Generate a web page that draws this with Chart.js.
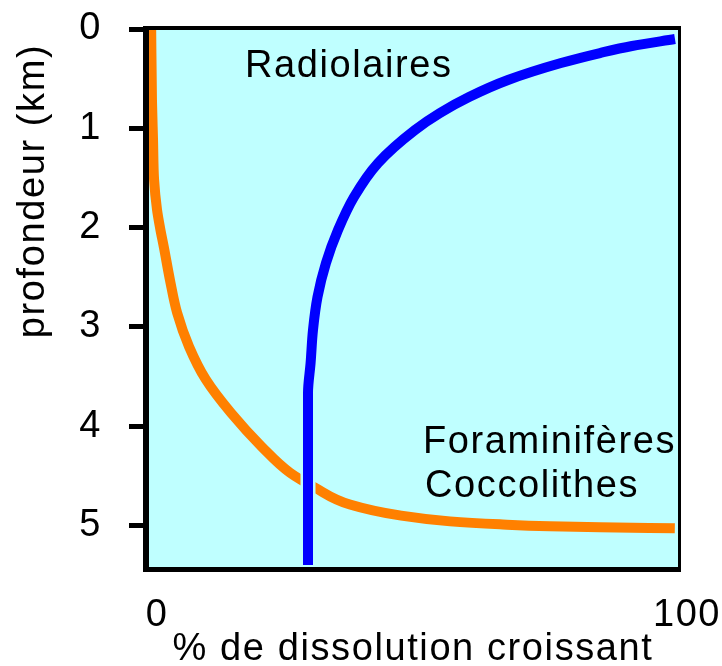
<!DOCTYPE html>
<html><head><meta charset="utf-8">
<style>html,body{margin:0;padding:0;background:#fff;}canvas{display:block;}</style>
<script src="https://cdn.jsdelivr.net/npm/chart.js@4"></script>
</head><body>
<canvas id="c" width="722" height="666"></canvas>
<script>
// ---- data ----
const yTicks = [0, 1, 2, 3, 4, 5];
const xTicks = [0, 100];
const xTitle = '% de dissolution croissant';
const yTitle = 'profondeur (km)';
const labelRadio = 'Radiolaires';
const labelForam = ['Foraminifères', 'Coccolithes'];

// Foraminifères / Coccolithes (orange)
const foramX = [0.6, 0.75, 0.95, 1.15, 1.7, 2.3, 3.0, 4.15, 5.5, 7.75, 10.9, 15.7, 21.5, 26.8, 31.5, 38.1, 47.5, 57.0, 66.4, 75.8, 85.3, 99.4];
const foramY = [0.0, 0.72, 1.12, 1.52, 1.82, 2.01, 2.20, 2.53, 2.86, 3.20, 3.53, 3.87, 4.21, 4.47, 4.62, 4.79, 4.90, 4.96, 4.99, 5.01, 5.02, 5.03];

// Radiolaires (blue)
const radioX = [30.19, 30.19, 30.68, 31.13, 31.98, 33.58, 35.85, 38.87, 43.40, 50.38, 55.09, 60.57, 67.92, 77.92, 85.28, 91.32, 99.43];
const radioY = [5.40, 3.667, 3.364, 3.032, 2.700, 2.357, 2.025, 1.692, 1.350, 1.017, 0.846, 0.685, 0.514, 0.343, 0.242, 0.171, 0.101];

const yMax = 5.45;

// ---- chart ----
const FONT = '"Liberation Sans", Arial, sans-serif';
const SPACING = '1.6px';
const pts = (xs, ys) => xs.map((x, i) => ({ x: x, y: ys[i] }));

const deco = {
  id: 'deco',
  beforeDraw(chart) {
    const { ctx, chartArea: a } = chart;
    ctx.save();
    ctx.fillStyle = '#ffffff';
    ctx.fillRect(0, 0, chart.width, chart.height);
    ctx.fillStyle = '#BFFFFF';
    ctx.fillRect(a.left, a.top, a.right - a.left, a.bottom - a.top);
    ctx.restore();
    ctx.letterSpacing = SPACING;
  },
  afterDatasetsDraw(chart) {
    const { ctx, chartArea: a } = chart;
    ctx.save();
    ctx.fillStyle = '#000';
    ctx.fillRect(a.left - 5, a.top - 3, 6, a.bottom - a.top + 5);   // left
    ctx.fillRect(a.left - 5, a.bottom - 3, a.right - a.left + 8, 5); // bottom
    ctx.fillRect(a.left - 5, a.top - 3, a.right - a.left + 8, 4);    // top
    ctx.fillRect(a.right, a.top - 3, 3, a.bottom - a.top + 5);       // right
    ctx.restore();
  },
  afterDraw(chart) {
    const { ctx } = chart;
    ctx.save();
    ctx.letterSpacing = SPACING;
    ctx.fillStyle = '#000';
    ctx.font = '38px ' + FONT;
    ctx.textBaseline = 'alphabetic';
    ctx.textAlign = 'left';
    ctx.fillText(labelRadio, 245, 77);
    ctx.fillText(labelForam[0], 423, 453);
    ctx.fillText(labelForam[1], 425, 497);
    ctx.translate(44, 191);
    ctx.rotate(-Math.PI / 2);
    ctx.textAlign = 'center';
    ctx.fillText(yTitle, 0, 0);
    ctx.restore();
  }
};

const lineStyle = { pointRadius: 0, cubicInterpolationMode: 'monotone', borderCapStyle: 'butt',
                    borderJoinStyle: 'round', fill: false };

new Chart(document.getElementById('c'), {
  type: 'line',
  data: {
    datasets: [
      Object.assign({ label: labelRadio, data: pts(radioX, radioY), borderColor: '#0000FF', borderWidth: 10 }, lineStyle),
      Object.assign({ label: 'halo', data: pts(radioX, radioY), borderColor: '#BFFFFF', borderWidth: 15 }, lineStyle),
      Object.assign({ label: labelForam.join(' '), data: pts(foramX, foramY), borderColor: '#FF8000', borderWidth: 10 }, lineStyle)
    ]
  },
  options: {
    indexAxis: 'y',
    responsive: false,
    animation: false,
    devicePixelRatio: 1,
    layout: { padding: { left: 0, top: 29, right: 44, bottom: 0 } },
    plugins: { legend: { display: false }, tooltip: { enabled: false } },
    scales: {
      x: {
        type: 'linear', position: 'bottom', min: 0, max: 100,
        afterBuildTicks: s => { s.ticks = xTicks.map(v => ({ value: v })); },
        afterFit: s => { s.height = 96; s.paddingLeft = 0; s.paddingRight = 0; },
        grid: { display: false },
        border: { display: false },
        ticks: { color: '#000', font: { family: FONT, size: 38, lineHeight: 1 }, padding: 19,
                 labelOffset: 9, maxRotation: 0, autoSkip: false, callback: v => String(v) },
        title: { display: true, text: xTitle, color: '#000',
                 font: { family: FONT, size: 38, lineHeight: 1 }, padding: { top: 0, bottom: -3 } }
      },
      y: {
        type: 'linear', position: 'left', reverse: true, min: 0, max: yMax,
        afterBuildTicks: s => { s.ticks = yTicks.map(v => ({ value: v })); },
        afterFit: s => { s.width = 148; s.paddingTop = 0; s.paddingBottom = 0; },
        grid: { drawOnChartArea: false, drawTicks: true, tickLength: 19, tickWidth: 5, tickColor: '#000' },
        border: { display: false },
        ticks: { color: '#000', font: { family: FONT, size: 38, lineHeight: 1 }, padding: 27,
                 autoSkip: false, callback: v => String(v) },
        title: { display: false }
      }
    }
  },
  plugins: [deco]
});
</script>
</body></html>
